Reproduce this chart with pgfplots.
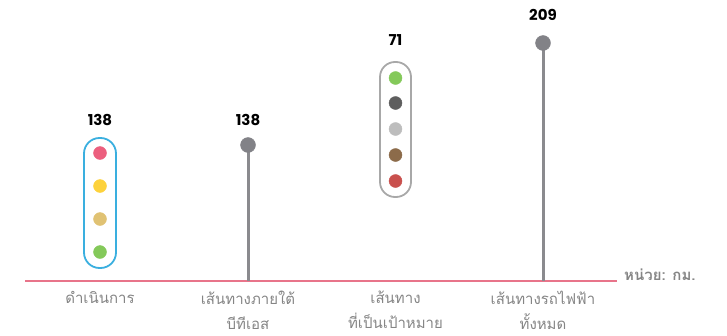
\documentclass[border=0pt]{standalone}
\usepackage{pgfplots}
\pgfplotsset{compat=1.18}
\usepackage{fontspec}
\setmainfont{Poppins}
\newfontfamily\thaifont[Script=Thai]{Loma}

\definecolor{baseln}{HTML}{E8748A}
\definecolor{stemgray}{HTML}{8A8A8E}
\definecolor{dotgray}{HTML}{828287}
\definecolor{boxblue}{HTML}{3AAFDF}
\definecolor{boxgray}{HTML}{A8A8A8}
\definecolor{labgray}{HTML}{858585}
\definecolor{cpink}{HTML}{EC5F7E}
\definecolor{cyellow}{HTML}{FDD23C}
\definecolor{ctan}{HTML}{E0C273}
\definecolor{cgreen}{HTML}{84C95A}
\definecolor{cdark}{HTML}{5E5E5E}
\definecolor{clight}{HTML}{BDBDBD}
\definecolor{cbrown}{HTML}{8C6B4A}
\definecolor{cred}{HTML}{C9504D}

\begin{document}
\begin{tikzpicture}
\begin{axis}[
    x=1bp, y=1bp,
    xmin=0, xmax=727,
    ymin=-54, ymax=281,
    hide axis,
    clip=false,
]
\path (rel axis cs:0,0) rectangle (rel axis cs:1,1);

% baseline
\addplot[baseln, line width=2bp] coordinates {(25,0) (617,0)};

% lollipops (heights as drawn in the source)
\addplot[stemgray, line width=3bp, ycomb] coordinates {(248,136) (543,238)};
\addplot[only marks, mark=*, mark size=7.5bp, dotgray] coordinates {(248,136) (543,238)};

% capsule boxes
\draw[boxblue, line width=1.8bp, rounded corners=15.5bp] (axis cs:84,13) rectangle (axis cs:116,143);
\draw[boxgray, line width=1.8bp, rounded corners=15bp] (axis cs:380,84) rectangle (axis cs:411,219);

% dots in box 1
\addplot[only marks, mark=*, mark size=6.5bp, cpink] coordinates {(100,128)};
\addplot[only marks, mark=*, mark size=6.5bp, cyellow] coordinates {(100,95)};
\addplot[only marks, mark=*, mark size=6.5bp, ctan] coordinates {(100,62)};
\addplot[only marks, mark=*, mark size=6.5bp, cgreen] coordinates {(100,29)};

% dots in box 3
\addplot[only marks, mark=*, mark size=6.5bp, cgreen] coordinates {(395.5,203)};
\addplot[only marks, mark=*, mark size=6.5bp, cdark] coordinates {(395.5,178)};
\addplot[only marks, mark=*, mark size=6.5bp, clight] coordinates {(395.5,152)};
\addplot[only marks, mark=*, mark size=6.5bp, cbrown] coordinates {(395.5,126)};
\addplot[only marks, mark=*, mark size=6.5bp, cred] coordinates {(395.5,100)};

% value labels
\node[font=\fontsize{15bp}{17bp}\selectfont\bfseries] at (axis cs:100,161) {138};
\node[font=\fontsize{15bp}{17bp}\selectfont\bfseries] at (axis cs:248,161) {138};
\node[font=\fontsize{15bp}{17bp}\selectfont\bfseries] at (axis cs:395.5,241) {71};
\node[font=\fontsize{15bp}{17bp}\selectfont\bfseries] at (axis cs:543,266) {209};

% category labels
\begin{scope}[every node/.style={font=\thaifont\fontsize{15bp}{25bp}\selectfont, text=labgray, align=center, anchor=north, inner sep=0pt}]
\node at (axis cs:100,-10) {ดำเนินการ};
\node at (axis cs:248,-10) {เส้นทางภายใต้\\บีทีเอส};
\node at (axis cs:395.5,-10) {เส้นทาง\\ที่เป็นเป้าหมาย};
\node at (axis cs:543,-10) {เส้นทางรถไฟฟ้า\\ทั้งหมด};
\end{scope}
\node[font=\thaifont\bfseries\fontsize{15bp}{18bp}\selectfont, text=labgray, anchor=west, inner sep=0pt] at (axis cs:624,6) {หน่วย: กม.};
\end{axis}
\end{tikzpicture}
\end{document}
